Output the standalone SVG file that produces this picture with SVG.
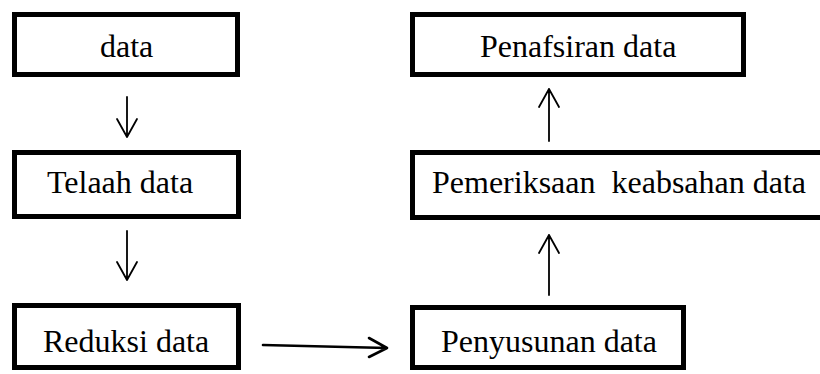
<svg xmlns="http://www.w3.org/2000/svg" width="820" height="374" viewBox="0 0 820 374">
<style>
.box{fill:#fff;stroke:#000;stroke-width:5}
.t{font-family:"Liberation Serif","Times New Roman",serif;font-size:32px;fill:#000}
.ln{fill:none;stroke:#000;stroke-width:1.8;stroke-linecap:round;stroke-linejoin:round}
.lt{fill:none;stroke:#000;stroke-width:2.6;stroke-linecap:round;stroke-linejoin:round}
</style>
<rect width="820" height="374" fill="#fff"/>
<g id="n-data"><rect class="box" x="14.5" y="14.5" width="223" height="60"/><text class="t" x="100" y="57">data</text></g>
<g id="n-telaah"><rect class="box" x="14.5" y="152.5" width="224" height="64"/><text class="t" x="47" y="193">Telaah data</text></g>
<g id="n-reduksi"><rect class="box" x="14.5" y="305.5" width="224" height="62"/><text class="t" x="43" y="352">Reduksi data</text></g>
<g id="n-penafsiran"><rect class="box" x="412.5" y="14.5" width="331" height="60"/><text class="t" x="480" y="57">Penafsiran data</text></g>
<g id="n-pemeriksaan"><rect class="box" x="412.5" y="152.5" width="420" height="65"/><text class="t" x="432" y="193" xml:space="preserve">Pemeriksaan  keabsahan data</text></g>
<g id="n-penyusunan"><rect class="box" x="412.5" y="307.5" width="271" height="60"/><text class="t" x="441" y="352">Penyusunan data</text></g>
<g id="connectors">
<path class="ln" d="M127 97V137M117 119L127 137L137 119"/>
<path class="ln" d="M127 231V280M117 262L127 280L137 262"/>
<path class="lt" d="M263 345L387 348M369 338L387 348L369 357"/>
<path class="ln" d="M549 295V235M539 253L549 235L559 253"/>
<path class="ln" d="M549 141V89M539 107L549 89L559 107"/>
</g>
</svg>
